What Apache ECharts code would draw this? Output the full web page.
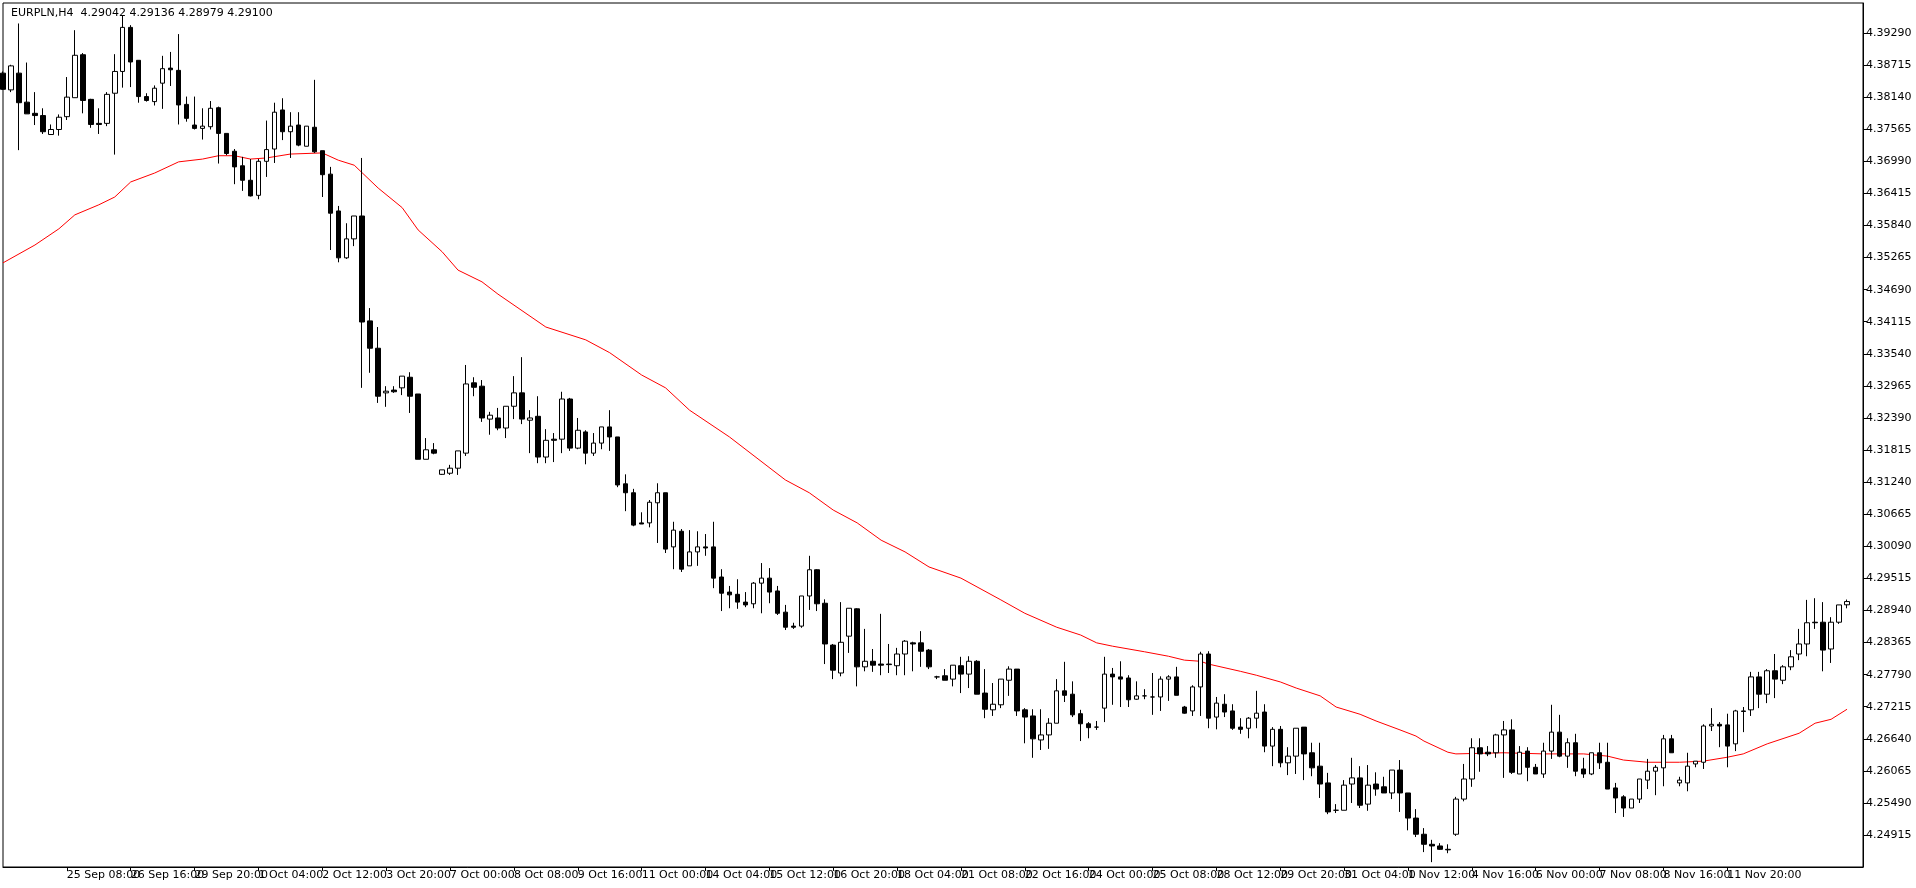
<!DOCTYPE html>
<html><head><meta charset="utf-8">
<script src="https://cdn.jsdelivr.net/npm/echarts@6/dist/echarts.min.js"></script>
<style>html,body{margin:0;padding:0;background:#fff}#c{width:1916px;height:888px}</style>
</head><body><div id="c"></div>
<script>
const tickLabels = ['24 Sep 2019','25 Sep 08:00','26 Sep 16:00','29 Sep 20:00','1 Oct 04:00','2 Oct 12:00','3 Oct 20:00','7 Oct 00:00','8 Oct 08:00','9 Oct 16:00','11 Oct 00:00','14 Oct 04:00','15 Oct 12:00','16 Oct 20:00','18 Oct 04:00','21 Oct 08:00','22 Oct 16:00','24 Oct 00:00','25 Oct 08:00','28 Oct 12:00','29 Oct 20:00','31 Oct 04:00','1 Nov 12:00','4 Nov 16:00','6 Nov 00:00','7 Nov 08:00','8 Nov 16:00','11 Nov 20:00','13 Nov 04:00'];
const priceTicks = [4.39290,4.38715,4.38140,4.37565,4.36990,4.36415,4.35840,4.35265,4.34690,4.34115,4.33540,4.32965,4.32390,4.31815,4.31240,4.30665,4.30090,4.29515,4.28940,4.28365,4.27790,4.27215,4.26640,4.26065,4.25490,4.24915];
const opens = [4.3857,4.3827,4.3857,4.3805,4.3785,4.3781,4.3747,4.3756,4.3779,4.3813,4.3890,4.3810,4.3767,4.3767,4.3821,4.3860,4.3939,4.3880,4.3815,4.3806,4.3839,4.3866,4.3862,4.3801,4.3764,4.3758,4.3761,4.3795,4.3749,4.3717,4.3691,4.3665,4.3638,4.3699,4.3721,4.3791,4.3752,4.3764,4.3726,4.3760,
4.3718,4.3676,4.3610,4.3526,4.3560,4.3601,4.3413,4.3364,4.3284,4.3289,4.3293,4.3312,4.3282,4.3165,4.3182,4.3138,4.3140,4.3149,4.3176,4.3302,4.3296,4.3237,4.3239,4.3221,4.3260,4.3284,4.3235,4.3242,4.3169,4.3201,
4.3201,4.3273,4.3185,4.3214,4.3176,4.3194,4.3223,4.3205,4.3121,4.3105,4.3051,4.3051,4.3087,4.3105,4.3008,4.3036,4.2974,4.2999,4.3008,4.3008,4.2954,4.2927,4.2923,4.2909,4.2906,4.2943,4.2952,4.2929,4.2891,4.2866,
4.2866,4.2920,4.2967,4.2907,4.2832,4.2782,4.2848,4.2897,4.2793,4.2803,4.2798,4.2798,4.2795,4.2816,4.2836,4.2836,4.2823,4.2775,4.2777,4.2771,4.2795,4.2780,4.2803,4.2746,4.2716,4.2725,4.2769,4.2789,4.2716,4.2705,
4.2662,4.2671,4.2692,4.2750,4.2744,4.2709,4.2691,4.2685,4.2719,4.2780,4.2775,4.2773,4.2735,4.2741,4.2739,4.2739,4.2771,4.2775,4.2721,4.2714,4.2757,4.2816,4.2703,4.2726,4.2714,4.2685,4.2683,4.2701,4.2712,4.2651,
4.2681,4.2621,4.2633,4.2685,4.2639,4.2615,4.2585,4.2536,4.2536,4.2583,4.2594,4.2547,4.2583,4.2578,4.2567,4.2608,4.2567,4.2522,4.2493,4.2475,4.2472,4.2466,4.2493,4.2556,4.2592,4.2648,4.2640,4.2639,4.2671,4.2680,
4.2601,4.2642,4.2613,4.2601,4.2642,4.2676,4.2633,4.2657,4.2610,4.2601,4.2639,4.2622,4.2576,4.2560,4.2540,4.2556,4.2590,4.2606,4.2612,4.2664,4.2585,4.2585,4.2619,4.2622,4.2687,4.2690,4.2689,4.2655,4.2714,4.2716,
4.2775,4.2744,4.2786,4.2769,4.2793,4.2816,4.2834,4.2873,4.2873,4.2825,4.2873,4.29042];
const highs = [4.3860,4.3872,4.3946,4.3876,4.3823,4.3794,4.3765,4.3783,4.3850,4.3934,4.3893,4.3811,4.3794,4.3823,4.3891,4.3961,4.3943,4.3880,4.3821,4.3835,4.3888,4.3895,4.3927,4.3815,4.3815,4.3794,4.3807,4.3797,4.3749,4.3721,4.3707,4.3703,4.3703,4.3772,4.3804,4.3812,4.3787,4.3787,4.3762,4.3845,
4.3718,4.3689,4.3619,4.3588,4.3601,4.3705,4.3436,4.3402,4.3296,4.3296,4.3314,4.3321,4.3282,4.3203,4.3194,4.3146,4.3155,4.3180,4.3334,4.3312,4.3307,4.3250,4.3257,4.3260,4.3314,4.3348,4.3253,4.3278,4.3219,4.3212,
4.3286,4.3275,4.3239,4.3217,4.3212,4.3223,4.3253,4.3205,4.3138,4.3112,4.3070,4.3092,4.3122,4.3105,4.3053,4.3040,4.3038,4.3036,4.3031,4.3053,4.2968,4.2938,4.2950,4.2927,4.2945,4.2979,4.2970,4.2938,4.2904,4.2872,
4.2920,4.2992,4.2968,4.2914,4.2834,4.2909,4.2898,4.2898,4.2861,4.2825,4.2888,4.2834,4.2827,4.2841,4.2838,4.2857,4.2825,4.2777,4.2789,4.2796,4.2811,4.2812,4.2805,4.2789,4.2764,4.2771,4.2794,4.2789,4.2719,4.2717,
4.2717,4.2701,4.2771,4.2802,4.2767,4.2716,4.2694,4.2696,4.2811,4.2791,4.2803,4.2778,4.2767,4.2753,4.2782,4.2776,4.2778,4.2793,4.2723,4.2760,4.2820,4.2821,4.2739,4.2744,4.2726,4.2701,4.2703,4.2750,4.2726,4.2685,
4.2687,4.2649,4.2683,4.2685,4.2657,4.2657,4.2603,4.2547,4.2590,4.2630,4.2615,4.2617,4.2604,4.2596,4.2608,4.2626,4.2567,4.2538,4.2504,4.2483,4.2477,4.2475,4.2560,4.2619,4.2665,4.2665,4.2651,4.2673,4.2696,4.2699,
4.2651,4.2649,4.2619,4.2657,4.2725,4.2707,4.2665,4.2673,4.2630,4.2639,4.2657,4.2657,4.2585,4.2563,4.2556,4.2592,4.2628,4.2617,4.2671,4.2671,4.2596,4.2639,4.2624,4.2690,4.2719,4.2694,4.2709,4.2716,4.2721,4.2784,
4.2784,4.2789,4.2816,4.2796,4.2823,4.2861,4.2913,4.2916,4.2909,4.2882,4.2904,4.29136];
const lows = [4.3827,4.3823,4.3719,4.3784,4.3764,4.3748,4.3747,4.3745,4.3773,4.3813,4.3785,4.3759,4.3748,4.3762,4.3711,4.3831,4.3832,4.3804,4.3806,4.3799,4.3793,4.3834,4.3765,4.3770,4.3756,4.3738,4.3756,4.3695,4.3710,4.3658,4.3646,4.3636,4.3631,4.3671,4.3696,4.3737,4.3705,4.3726,4.3726,4.3714,
4.3635,4.3540,4.3518,4.3524,4.3547,4.3293,4.3320,4.3266,4.3259,4.3284,4.3280,4.3248,4.3165,4.3165,4.3174,4.3137,4.3137,4.3137,4.3171,4.3278,4.3232,4.3209,4.3217,4.3203,4.3237,4.3228,4.3176,4.3158,4.3158,4.3160,
4.3176,4.3180,4.3183,4.3156,4.3171,4.3183,4.3180,4.3115,4.3072,4.3045,4.3049,4.3043,4.3015,4.2997,4.2968,4.2963,4.2974,4.2974,4.2992,4.2934,4.2893,4.2898,4.2897,4.2900,4.2898,4.2889,4.2907,4.2886,4.2859,4.2861,
4.2863,4.2895,4.2893,4.2798,4.2771,4.2776,4.2818,4.2758,4.2785,4.2784,4.2778,4.2782,4.2778,4.2778,4.2785,4.2793,4.2789,4.2771,4.2769,4.2758,4.2746,4.2755,4.2744,4.2701,4.2705,4.2719,4.2741,4.2705,4.2656,4.2630,
4.2644,4.2646,4.2692,4.2730,4.2703,4.2660,4.2665,4.2680,4.2694,4.2725,4.2721,4.2721,4.2734,4.2735,4.2707,4.2714,4.2732,4.2742,4.2709,4.2705,4.2705,4.2683,4.2681,4.2703,4.2680,4.2673,4.2665,4.2683,4.2640,4.2615,
4.2613,4.2599,4.2601,4.2590,4.2597,4.2558,4.2529,4.2531,4.2536,4.2549,4.2540,4.2535,4.2562,4.2567,4.2556,4.2533,4.2500,4.2488,4.2461,4.2443,4.2465,4.2459,4.2490,4.2552,4.2578,4.2605,4.2633,4.2630,4.2594,4.2601,
4.2601,4.2588,4.2601,4.2594,4.2628,4.2631,4.2612,4.2597,4.2594,4.2599,4.2610,4.2574,4.2531,4.2524,4.2540,4.2549,4.2574,4.2563,4.2579,4.2639,4.2579,4.2570,4.2613,4.2610,4.2678,4.2649,4.2613,4.2642,4.2676,4.2705,
4.2719,4.2728,4.2737,4.2762,4.2787,4.2805,4.2812,4.2861,4.2785,4.2800,4.2870,4.28979];
const closes = [4.3828,4.3870,4.3804,4.3784,4.3781,4.3752,4.3756,4.3778,4.3814,4.3889,4.3808,4.3765,4.3765,4.3819,4.3860,4.3939,4.3877,4.3815,4.3808,4.3830,4.3865,4.3863,4.3800,4.3776,4.3758,4.3762,4.3794,4.3749,4.3713,4.3689,4.3665,4.3637,4.3699,4.3720,4.3787,4.3752,4.3762,4.3728,4.3762,4.3716,
4.3675,4.3606,4.3526,4.3560,4.3601,4.3411,4.3364,4.3278,4.3287,4.3286,4.3314,4.3278,4.3165,4.3182,4.3176,4.3146,4.3149,4.3180,4.3300,4.3294,4.3239,4.3244,4.3221,4.3260,4.3284,4.3237,4.3239,4.3169,4.3199,4.3199,
4.3273,4.3185,4.3217,4.3176,4.3194,4.3223,4.3205,4.3119,4.3105,4.3047,4.3049,4.3088,4.3105,4.3004,4.3038,4.2968,4.2999,4.3008,4.3006,4.2952,4.2925,4.2922,4.2909,4.2904,4.2943,4.2952,4.2927,4.2889,4.2864,4.2864,
4.2920,4.2967,4.2906,4.2834,4.2787,4.2837,4.2898,4.2793,4.2803,4.2796,4.2796,4.2797,4.2816,4.2839,4.2834,4.2821,4.2793,4.2775,4.2769,4.2796,4.2780,4.2803,4.2744,4.2717,4.2726,4.2771,4.2789,4.2714,4.2703,4.2664,
4.2671,4.2692,4.2750,4.2742,4.2707,4.2691,4.2684,4.2685,4.2780,4.2775,4.2771,4.2734,4.2741,4.2741,4.2739,4.2771,4.2775,4.2742,4.2710,4.2757,4.2816,4.2701,4.2728,4.2712,4.2683,4.2681,4.2701,4.2710,4.2651,4.2681,
4.2621,4.2633,4.2683,4.2637,4.2612,4.2583,4.2533,4.2536,4.2581,4.2594,4.2545,4.2581,4.2574,4.2567,4.2608,4.2567,4.2522,4.2493,4.2475,4.2472,4.2466,4.2465,4.2556,4.2592,4.2648,4.2637,4.2637,4.2671,4.2680,4.2604,
4.2640,4.2613,4.2601,4.2642,4.2676,4.2633,4.2657,4.2606,4.2601,4.2639,4.2621,4.2574,4.2558,4.2540,4.2556,4.2592,4.2606,4.2613,4.2664,4.2639,4.2590,4.2615,4.2624,4.2687,4.2690,4.2687,4.2651,4.2714,4.2713,4.2775,
4.2744,4.2786,4.2771,4.2793,4.2811,4.2834,4.2872,4.2872,4.2823,4.2873,4.2904,4.29100];
const maBars = [0,4,7,9,12,14,16,19,22,25,27,29,31,33,36,40,42,44,47,50,52,55,57,60,62,68,73,76,80,83,86,91,98,101,104,107,110,113,116,120,125,128,132,135,137,139,143,146,148,150,151,155,157,160,162,165,167,170,172,175,177,178,181,182,188,193,198,201,203,206,210,213,216,218,221,225,227,229,231];
const maValues = [4.3517,4.3549,4.3578,4.3603,4.3621,4.3635,4.3662,4.3678,4.3698,4.3703,4.3709,4.3709,4.3703,4.3705,4.3712,4.3714,4.3701,4.3692,4.3651,4.3616,4.3576,4.3537,4.3504,4.3483,4.3461,4.3402,4.3379,4.3356,4.3316,4.3293,4.3253,4.3205,4.3128,4.3105,4.3074,4.3051,4.3020,4.2999,4.2972,4.2952,4.2913,4.2889,4.2864,4.2850,4.2836,4.2830,4.2820,4.2812,4.2805,4.2803,4.2798,4.2785,4.2778,4.2766,4.2755,4.2741,4.2721,4.2708,4.2696,4.2680,4.2669,4.2660,4.2640,4.2637,4.2639,4.2637,4.2637,4.2633,4.2626,4.2622,4.2622,4.2624,4.2631,4.2637,4.2655,4.2674,4.2692,4.2699,4.2717];

const N = opens.length;
const cats = [];
for (let i = 0; i < N + 2; i++) cats.push(String(i));
const ohlc = opens.map((o, i) => [o, closes[i], lows[i], highs[i]]);
const ma = maBars.map((b, i) => [b, maValues[i]]);
const F = 'Tahoma, "DejaVu Sans", sans-serif';

const chart = echarts.init(document.getElementById('c'));
chart.setOption({
  animation: false,
  backgroundColor: '#fff',
  title: { text: 'EURPLN,H4  4.29042 4.29136 4.28979 4.29100', left: 6, top: 3,
    textStyle: { fontFamily: F, fontSize: 11, fontWeight: 'normal', color: '#000' } },
  grid: { left: 3, right: 53, top: 3, bottom: 21, show: true, borderColor: '#000', borderWidth: 1 },
  xAxis: {
    type: 'category', data: cats, boundaryGap: false,
    axisLine: { lineStyle: { color: '#000' } },
    axisTick: { inside: false, length: 4, lineStyle: { color: '#000' }, interval: (i) => i % 8 === 0 && i / 8 < tickLabels.length },
    axisLabel: { interval: (i) => i % 8 === 0 && i / 8 < tickLabels.length, formatter: (v, i) => tickLabels[i / 8] || '',
      align: 'left', margin: 3, fontFamily: F, fontSize: 11, color: '#000' },
    splitLine: { show: false }
  },
  yAxis: {
    type: 'value', position: 'right', scale: true, min: 4.24343, max: 4.39827,
    axisLine: { show: true, lineStyle: { color: '#000' } },
    axisTick: { show: true, length: 4, lineStyle: { color: '#000' }, customValues: priceTicks },
    axisLabel: { customValues: priceTicks, formatter: (v) => v.toFixed(5), margin: 3, fontFamily: F, fontSize: 11, color: '#000' },
    splitLine: { show: false }
  },
  series: [
    { type: 'candlestick', data: ohlc, barWidth: 5,
      itemStyle: { color: '#fff', color0: '#000', borderColor: '#000', borderColor0: '#000', borderWidth: 1 } },
    { type: 'line', data: ma, showSymbol: false, symbol: 'none', lineStyle: { color: '#ff0000', width: 1 }, z: 1 }
  ]
});
</script></body></html>
